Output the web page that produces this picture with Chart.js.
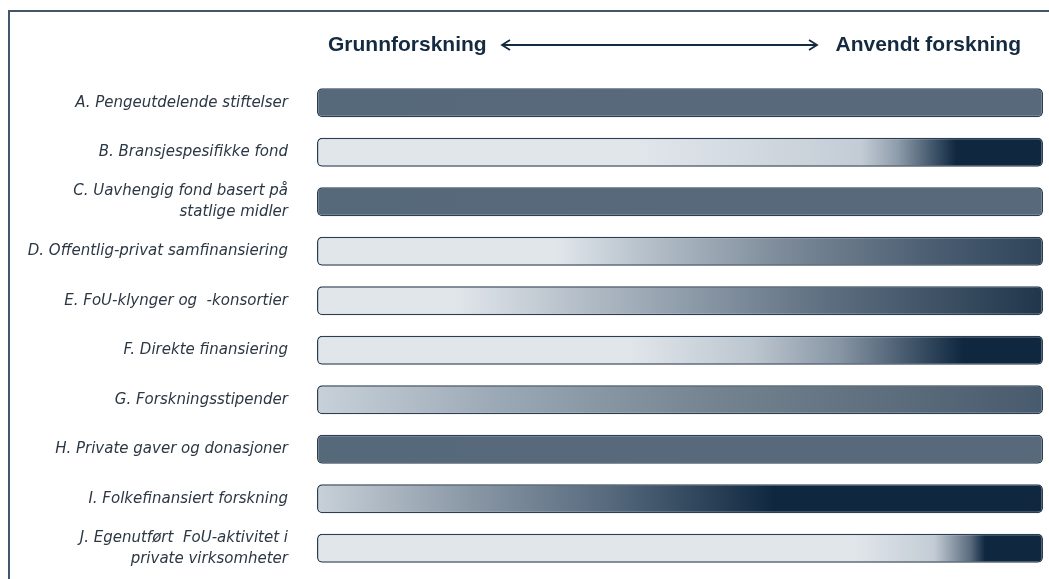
<!DOCTYPE html>
<html>
<head>
<meta charset="utf-8">
<script src="https://cdn.jsdelivr.net/npm/chart.js@4.4.1/dist/chart.umd.min.js"></script>
<style>
  html, body { margin: 0; padding: 0; background: #fff; }
  #wrap { position: relative; width: 1049px; height: 579px; overflow: hidden; }
  #frame { position: absolute; left: 8px; top: 10px; width: 1100px; height: 700px;
           border-left: 2px solid #44566a; border-top: 2px solid #44566a; }
  canvas { position: absolute; left: 0; top: 0; }
</style>
</head>
<body>
<div id="wrap">
  <div id="frame"></div>
  <canvas id="chart" width="1049" height="579"></canvas>
</div>
<script>
// Categories (funding types), top to bottom
var categories = [
  'A. Pengeutdelende stiftelser',
  'B. Bransjespesifikke fond',
  ['C. Uavhengig fond basert på', 'statlige midler'],
  'D. Offentlig-privat samfinansiering',
  'E. FoU-klynger og  -konsortier',
  'F. Direkte finansiering',
  'G. Forskningsstipender',
  'H. Private gaver og donasjoner',
  'I. Folkefinansiert forskning',
  ['J. Egenutført  FoU-aktivitet i', 'private virksomheter']
];

// Every bar spans the whole scale from basic to applied research
var spans = [1, 1, 1, 1, 1, 1, 1, 1, 1, 1];

// Axis end labels
var leftLabel = 'Grunnforskning';
var rightLabel = 'Anvendt forskning';

// Colour fade along each bar (position 0..1, colour)
var light = '#e1e6eb';
var mid = '#56697b';
var dark = '#0f2840';
var fades = [
  [[0, mid], [1, '#58697b']],
  [[0, light], [0.44, light], [0.75, '#c3ccd5'], [0.8, '#8e9cab'], [0.88, dark], [1, dark]],
  [[0, mid], [1, '#58697b']],
  [[0, light], [0.33, light], [0.45, '#b6c1cb'], [0.65, '#7a8897'], [0.85, '#4a5d71'], [1, '#2f4459']],
  [[0, light], [0.19, light], [0.4, '#aab5c0'], [0.7, '#5e6f81'], [1, '#21364b']],
  [[0, light], [0.43, light], [0.6, '#bcc6cf'], [0.72, '#8795a4'], [0.89, dark], [1, dark]],
  [[0, '#c8d1d9'], [0.25, '#9ba8b5'], [0.55, '#74838f'], [1, '#485a6d']],
  [[0, mid], [1, '#58697b']],
  [[0, '#c8d1d9'], [0.2, '#8d9aa8'], [0.4, '#576a7e'], [0.63, dark], [1, dark]],
  [[0, light], [0.74, light], [0.85, '#c3ccd5'], [0.9, '#5a6b7e'], [0.92, dark], [1, dark]]
];

// Build a horizontal gradient across the plot area for one bar
function barFill(context) {
  var chart = context.chart;
  var area = chart.chartArea;
  if (!area) return mid;
  var g = chart.ctx.createLinearGradient(area.left, 0, area.right, 0);
  fades[context.dataIndex].forEach(function (s) {
    g.addColorStop(s[0], s[1]);
  });
  return g;
}

// Header with the two end labels and a double arrow between them
var headerPlugin = {
  id: 'header',
  afterDraw: function (chart) {
    var ctx = chart.ctx;
    var y = 45;
    ctx.save();
    ctx.fillStyle = '#142a40';
    ctx.strokeStyle = '#142a40';
    ctx.font = 'bold 21px "Liberation Sans", Arial, sans-serif';
    ctx.textBaseline = 'middle';
    ctx.textAlign = 'left';
    ctx.fillText(leftLabel, 328, y);
    ctx.textAlign = 'right';
    ctx.fillText(rightLabel, 1021, y);

    var x1 = 502, x2 = 817;
    ctx.lineWidth = 1.8;
    ctx.beginPath();
    ctx.moveTo(x1, y);
    ctx.lineTo(x2, y);
    ctx.moveTo(x1 + 8, y - 5);
    ctx.lineTo(x1, y);
    ctx.lineTo(x1 + 8, y + 5);
    ctx.moveTo(x2 - 8, y - 5);
    ctx.lineTo(x2, y);
    ctx.lineTo(x2 - 8, y + 5);
    ctx.stroke();
    ctx.restore();
  }
};

var chart = new Chart(document.getElementById('chart'), {
  type: 'bar',
  data: {
    labels: categories,
    datasets: [{
      data: spans,
      backgroundColor: barFill,
      borderColor: '#2b3e52',
      borderWidth: 1.5,
      borderRadius: 5,
      borderSkipped: false,
      barPercentage: 0.585,
      categoryPercentage: 1
    }]
  },
  options: {
    indexAxis: 'y',
    responsive: false,
    animation: false,
    layout: {
      padding: { top: 78, bottom: 6, right: 6, left: 0 }
    },
    scales: {
      x: {
        display: false,
        min: 0,
        max: 1
      },
      y: {
        grid: { display: false, drawTicks: false },
        border: { display: false },
        afterFit: function (scale) {
          scale.width = 317;
          scale.paddingTop = 0;
          scale.paddingBottom = 0;
        },
        ticks: {
          padding: 29,
          color: '#2c3744',
          font: { family: '"DejaVu Sans", "Liberation Sans", sans-serif', size: 15, style: 'italic', lineHeight: 1.4 }
        }
      }
    },
    plugins: {
      legend: { display: false },
      tooltip: { enabled: false }
    }
  },
  plugins: [headerPlugin]
});
</script>
</body>
</html>
